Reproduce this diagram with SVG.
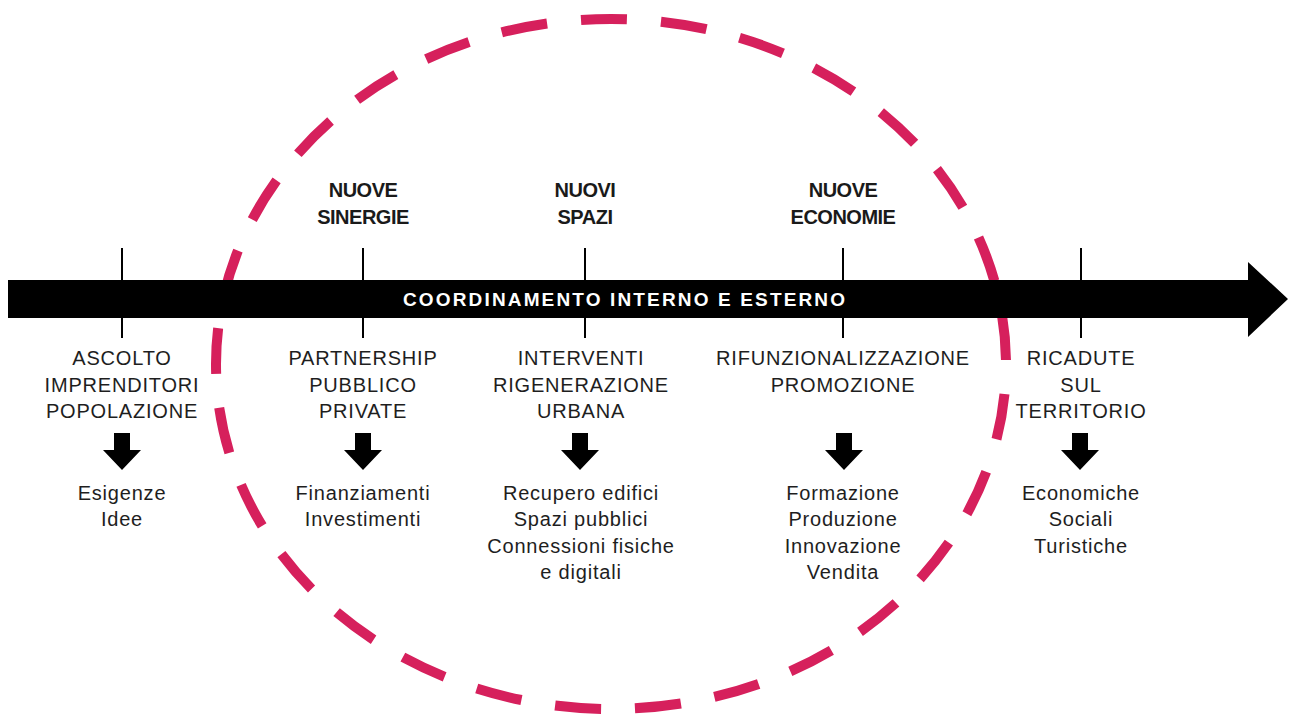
<svg xmlns="http://www.w3.org/2000/svg" width="1295" height="725" viewBox="0 0 1295 725">
  <style>
    .lbl { font-family: "Liberation Sans", Arial, sans-serif; font-size: 20px; letter-spacing: 0.8px; fill: #1e1e1e; text-anchor: middle; }
    .hdr { font-family: "Liberation Sans", Arial, sans-serif; font-size: 20px; font-weight: bold; letter-spacing: -0.5px; fill: #1a1a1a; text-anchor: middle; }
    .bar { font-family: "Liberation Sans", Arial, sans-serif; font-size: 19px; font-weight: bold; fill: #ffffff; text-anchor: middle; }
    .tick { stroke: #000; stroke-width: 2; }
    .down { fill: #000; }
    .ring { fill: none; stroke: #d6205c; stroke-width: 10; stroke-dasharray: 46 34; stroke-dashoffset: 50; }
  </style>
  <defs>
    <path id="downArrow" d="M-8,433 H8 V450 H19 L0,470 L-19,450 H-8 Z"/>
  </defs>
  <rect width="1295" height="725" fill="#ffffff"/>

  <g id="ring">
    <ellipse class="ring" cx="611" cy="364" rx="395" ry="345" pathLength="2320"/>
  </g>

  <g id="connectors">
    <line class="tick" x1="122" y1="248" x2="122" y2="338"/>
    <line class="tick" x1="363" y1="248" x2="363" y2="338"/>
    <line class="tick" x1="585" y1="248" x2="585" y2="338"/>
    <line class="tick" x1="843" y1="248" x2="843" y2="338"/>
    <line class="tick" x1="1081" y1="248" x2="1081" y2="338"/>
    <path d="M8,280 H1248 V262 L1288,299 L1248,337 V318 H8 Z" fill="#000"/>
    <use href="#downArrow" class="down" x="122"/>
    <use href="#downArrow" class="down" x="363"/>
    <use href="#downArrow" class="down" x="580"/>
    <use href="#downArrow" class="down" x="844"/>
    <use href="#downArrow" class="down" x="1080"/>
  </g>

  <g id="timeline-label">
    <text class="bar" x="624" y="306" textLength="442" lengthAdjust="spacing">COORDINAMENTO INTERNO E ESTERNO</text>
  </g>

  <g id="header-sinergie">
    <text class="hdr" x="363" y="197">NUOVE</text>
    <text class="hdr" x="363" y="224">SINERGIE</text>
  </g>
  <g id="header-spazi">
    <text class="hdr" x="585" y="197">NUOVI</text>
    <text class="hdr" x="585" y="224">SPAZI</text>
  </g>
  <g id="header-economie">
    <text class="hdr" x="843" y="197">NUOVE</text>
    <text class="hdr" x="843" y="224">ECONOMIE</text>
  </g>

  <g id="node-ascolto">
    <text class="lbl" x="122" y="365">ASCOLTO</text>
    <text class="lbl" x="122" y="392">IMPRENDITORI</text>
    <text class="lbl" x="122" y="418">POPOLAZIONE</text>
    <text class="lbl" x="122" y="500">Esigenze</text>
    <text class="lbl" x="122" y="526">Idee</text>
  </g>
  <g id="node-partnership">
    <text class="lbl" x="363" y="365">PARTNERSHIP</text>
    <text class="lbl" x="363" y="392">PUBBLICO</text>
    <text class="lbl" x="363" y="418">PRIVATE</text>
    <text class="lbl" x="363" y="500">Finanziamenti</text>
    <text class="lbl" x="363" y="526">Investimenti</text>
  </g>
  <g id="node-interventi">
    <text class="lbl" x="581" y="365">INTERVENTI</text>
    <text class="lbl" x="581" y="392">RIGENERAZIONE</text>
    <text class="lbl" x="581" y="418">URBANA</text>
    <text class="lbl" x="581" y="500">Recupero edifici</text>
    <text class="lbl" x="581" y="526">Spazi pubblici</text>
    <text class="lbl" x="581" y="553">Connessioni fisiche</text>
    <text class="lbl" x="581" y="579">e digitali</text>
  </g>
  <g id="node-rifunzionalizzazione">
    <text class="lbl" x="843" y="365">RIFUNZIONALIZZAZIONE</text>
    <text class="lbl" x="843" y="392">PROMOZIONE</text>
    <text class="lbl" x="843" y="500">Formazione</text>
    <text class="lbl" x="843" y="526">Produzione</text>
    <text class="lbl" x="843" y="553">Innovazione</text>
    <text class="lbl" x="843" y="579">Vendita</text>
  </g>
  <g id="node-ricadute">
    <text class="lbl" x="1081" y="365">RICADUTE</text>
    <text class="lbl" x="1081" y="392">SUL</text>
    <text class="lbl" x="1081" y="418">TERRITORIO</text>
    <text class="lbl" x="1081" y="500">Economiche</text>
    <text class="lbl" x="1081" y="526">Sociali</text>
    <text class="lbl" x="1081" y="553">Turistiche</text>
  </g>
</svg>
